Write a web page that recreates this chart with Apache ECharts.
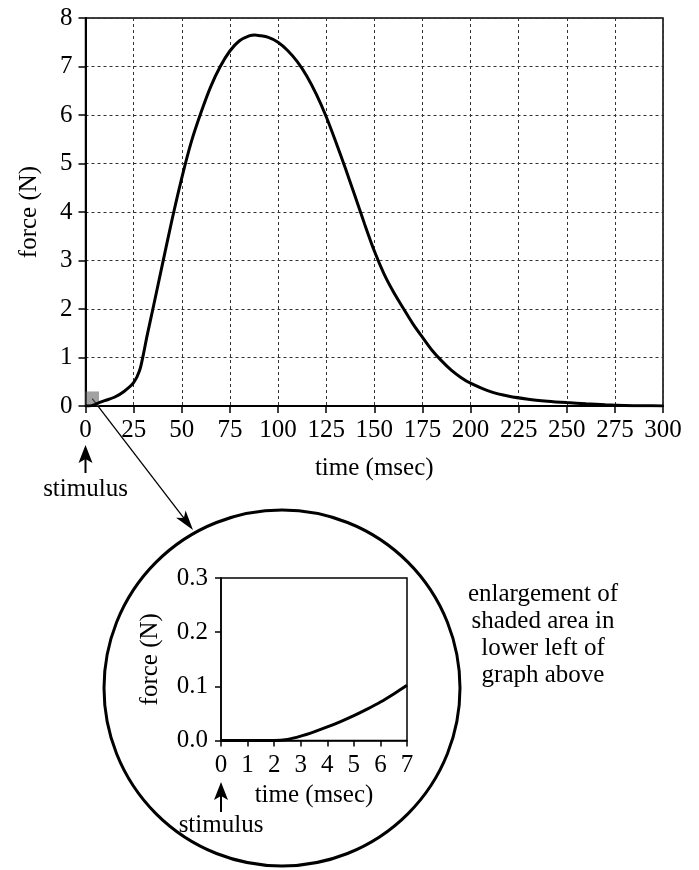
<!DOCTYPE html>
<html>
<head>
<meta charset="utf-8">
<script src="https://cdn.jsdelivr.net/npm/echarts@6/dist/echarts.min.js"></script>
<style>
  html, body { margin: 0; padding: 0; background: #fff; }
  #chart { width: 699px; height: 870px; }
</style>
</head>
<body>
<div id="chart"></div>
<script>
// Twitch force after a stimulus (main trace, msec vs N)
const timeMs = [0, 2, 5, 7, 10, 15, 20, 25, 28, 30, 32, 35, 40, 45, 50, 55, 60, 65, 70, 75, 80, 85, 88, 90, 95,
  100, 105, 110, 115, 120, 125, 130, 135, 140, 145, 150, 155, 160, 165, 170, 175, 180, 185, 190, 195,
  200, 210, 220, 230, 240, 250, 260, 270, 280, 290, 300];
const forceN = [0, 0, 0.03, 0.07, 0.11, 0.18, 0.3, 0.48, 0.72, 1.05, 1.45, 2.0, 2.93, 3.85, 4.7, 5.45, 6.05, 6.58, 7.0, 7.32, 7.53, 7.63, 7.65, 7.64, 7.6,
  7.5, 7.33, 7.1, 6.8, 6.42, 5.97, 5.45, 4.9, 4.33, 3.75, 3.2, 2.73, 2.35, 2.02, 1.7, 1.42, 1.15, 0.93, 0.74, 0.59,
  0.47, 0.3, 0.2, 0.14, 0.1, 0.07, 0.045, 0.025, 0.01, 0.005, 0];

// Enlarged first 7 msec
const insetTimeMs = [0, 1, 2, 2.5, 3, 3.5, 4, 4.5, 5, 5.5, 6, 6.5, 7];
const insetForceN = [0, 0, 0, 0.002, 0.008, 0.016, 0.025, 0.035, 0.046, 0.058, 0.071, 0.086, 0.102];

// Region of the main graph that the inset enlarges
const shadedTime = [0, 7];
const shadedForce = [0, 0.3];

// Text
const xTitle = 'time (msec)';
const yTitle = 'force (N)';
const stimulusText = 'stimulus';
const noteLines = ['enlargement of', 'shaded area in', 'lower left of', 'graph above'];

const FONT = 'Liberation Serif';
const FS = 25;

const chart = echarts.init(document.getElementById('chart'), null, { renderer: 'canvas' });

function zip(a, b) { return a.map((v, i) => [v, b[i]]); }

const axisText = { fontFamily: FONT, fontSize: FS, color: '#000' };

chart.setOption({
  animation: false,
  backgroundColor: '#fff',
  grid: [
    { left: 85.5, top: 18, width: 577.5, height: 388, show: true, borderColor: '#000', borderWidth: 1.5, backgroundColor: 'transparent' },
    { left: 221, top: 578, width: 186, height: 162.5, show: true, borderColor: '#000', borderWidth: 1.5, backgroundColor: 'transparent' }
  ],
  xAxis: [
    {
      gridIndex: 0, type: 'value', min: 0, max: 300, interval: 25,
      axisLine: { show: true, onZero: false, lineStyle: { color: '#000', width: 2 } },
      axisTick: { show: true, inside: false, length: 7, lineStyle: { color: '#000', width: 1.5 } },
      axisLabel: Object.assign({ margin: 12 }, axisText),
      splitLine: { show: true, lineStyle: { color: '#333', width: 1, type: [3, 3] } },
      name: xTitle, nameLocation: 'middle', nameGap: 50, nameTextStyle: axisText
    },
    {
      gridIndex: 1, type: 'value', min: 0, max: 7, interval: 1,
      axisLine: { show: true, onZero: false, lineStyle: { color: '#000', width: 1.5 } },
      axisTick: { show: true, inside: false, length: 6, lineStyle: { color: '#000', width: 1.5 } },
      axisLabel: Object.assign({ margin: 12 }, axisText),
      splitLine: { show: false },
      name: xTitle, nameLocation: 'middle', nameGap: 42, nameTextStyle: axisText
    }
  ],
  yAxis: [
    {
      gridIndex: 0, type: 'value', min: 0, max: 8, interval: 1,
      axisLine: { show: true, onZero: false, lineStyle: { color: '#000', width: 2 } },
      axisTick: { show: true, inside: false, length: 7, lineStyle: { color: '#000', width: 1.5 } },
      axisLabel: Object.assign({ margin: 13 }, axisText),
      splitLine: { show: true, lineStyle: { color: '#333', width: 1, type: [3, 3] } },
      name: yTitle, nameLocation: 'middle', nameGap: 44, nameTextStyle: axisText
    },
    {
      gridIndex: 1, type: 'value', min: 0, max: 0.3, interval: 0.1,
      axisLine: { show: true, onZero: false, lineStyle: { color: '#000', width: 1.5 } },
      axisTick: { show: true, inside: false, length: 6, lineStyle: { color: '#000', width: 1.5 } },
      axisLabel: Object.assign({ margin: 13, formatter: v => v.toFixed(1) }, axisText),
      splitLine: { show: false },
      name: yTitle, nameLocation: 'middle', nameGap: 58, nameTextStyle: axisText
    }
  ],
  series: [
    {
      type: 'line', xAxisIndex: 0, yAxisIndex: 0,
      data: zip(timeMs, forceN),
      symbol: 'none', smooth: 0.3,
      lineStyle: { color: '#000', width: 3 },
      z: 5,
      markArea: {
        silent: true,
        itemStyle: { color: 'rgba(100,100,100,0.6)' },
        data: [[{ coord: [shadedTime[0], shadedForce[0]] }, { coord: [shadedTime[1], shadedForce[1]] }]]
      }
    },
    {
      type: 'line', xAxisIndex: 1, yAxisIndex: 1,
      data: zip(insetTimeMs, insetForceN),
      symbol: 'none', smooth: 0.3,
      lineStyle: { color: '#000', width: 3 },
      z: 5
    }
  ]
});

// Upward arrow with label under the time origin of an axis pair
function stimulusMark(origin, tipGap, tailGap, textGap) {
  const x = origin[0];
  const tipY = origin[1] + tipGap;
  const tailY = origin[1] + tailGap;
  const headLen = 18, halfW = 7;
  return [
    { type: 'line', shape: { x1: x, y1: tipY + headLen - 4, x2: x, y2: tailY }, style: { stroke: '#000', lineWidth: 2 } },
    { type: 'polygon', shape: { points: [[x, tipY], [x + halfW, tipY + headLen], [x, tipY + headLen - 4], [x - halfW, tipY + headLen]] }, style: { fill: '#000' } },
    { type: 'text', x: x, y: origin[1] + textGap, style: { text: stimulusText, fontFamily: FONT, fontSize: FS, fill: '#000', align: 'center', verticalAlign: 'middle' } }
  ];
}

// Pointer from the shaded area to the enlargement circle
function pointer(from, tip) {
  const dx = tip[0] - from[0], dy = tip[1] - from[1];
  const len = Math.hypot(dx, dy);
  const ux = dx / len, uy = dy / len, nx = -uy, ny = ux;
  const headLen = 20, halfW = 6;
  const bx = tip[0] - ux * headLen, by = tip[1] - uy * headLen;
  const notchX = tip[0] - ux * headLen * 0.75, notchY = tip[1] - uy * headLen * 0.75;
  return [
    { type: 'line', shape: { x1: from[0], y1: from[1], x2: notchX, y2: notchY }, style: { stroke: '#000', lineWidth: 1.3 } },
    { type: 'polygon', shape: { points: [tip, [bx + nx * halfW, by + ny * halfW], [notchX, notchY], [bx - nx * halfW, by - ny * halfW]] }, style: { fill: '#000' } }
  ];
}

const mainOrigin = chart.convertToPixel({ xAxisIndex: 0, yAxisIndex: 0 }, [0, 0]);
const insetOrigin = chart.convertToPixel({ xAxisIndex: 1, yAxisIndex: 1 }, [0, 0]);
const shadedCenter = chart.convertToPixel({ xAxisIndex: 0, yAxisIndex: 0 },
  [(shadedTime[0] + shadedTime[1]) / 2, (shadedForce[0] + shadedForce[1]) / 2]);

const circle = { cx: 282, cy: 688, r: 178 };
const pointerTip = [193, 530];

chart.setOption({
  graphic: [
    { type: 'circle', shape: circle, style: { fill: 'none', stroke: '#000', lineWidth: 3 }, z: 1 },
    ...pointer(shadedCenter, pointerTip),
    ...stimulusMark(mainOrigin, 39, 67, 83),
    ...stimulusMark(insetOrigin, 41.5, 71.5, 85),
    {
      type: 'text', x: 543, y: 581,
      style: {
        text: noteLines.join('\n'), fontFamily: FONT, fontSize: FS, lineHeight: 27,
        fill: '#000', align: 'center', verticalAlign: 'top'
      }
    }
  ]
});
</script>
</body>
</html>
